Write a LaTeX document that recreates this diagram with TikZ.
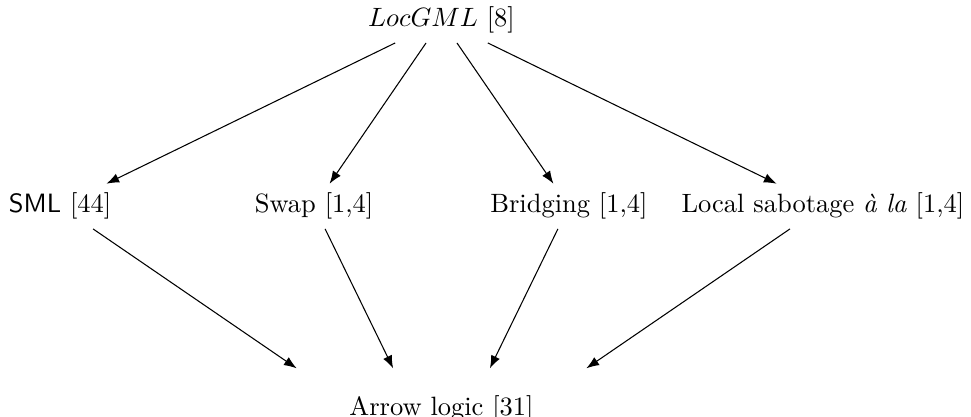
\documentclass[tikz,border=0pt]{standalone}
\usetikzlibrary{arrows.meta}

\begin{document}
\begin{tikzpicture}[
  x=1cm,y=1cm,
  logic/.style={anchor=base},
  sink/.style={anchor=base,minimum width=4.4cm,text height=14.3pt,text depth=53.6pt},
  refines/.style={-{Latex}}
]
  \useasboundingbox (-5.857,0.358) rectangle (7.024,-5.173);
  \clip (-5.857,0.358) rectangle (7.024,-5.173);
  \node[logic] (locgml) at (0,0) {$LocGML$ [8]};
  \node[logic] (sml) at (-5.06,-2.467) {\textsf{SML} [44]};
  \node[logic] (swap) at (-1.69,-2.467) {Swap [1,4]};
  \node[logic] (bridge) at (1.69,-2.467) {Bridging [1,4]};
  \node[logic] (sabotage) at (5.06,-2.467) {Local sabotage \emph{à la} [1,4]};
  \node[sink] (arrow) at (0,-5.155) {Arrow logic [31]};
  \foreach \n in {sml,swap,bridge,sabotage} {
    \draw[refines] (locgml) -- (\n);
    \draw[refines] (\n) -- (arrow);
  }
\end{tikzpicture}
\end{document}
